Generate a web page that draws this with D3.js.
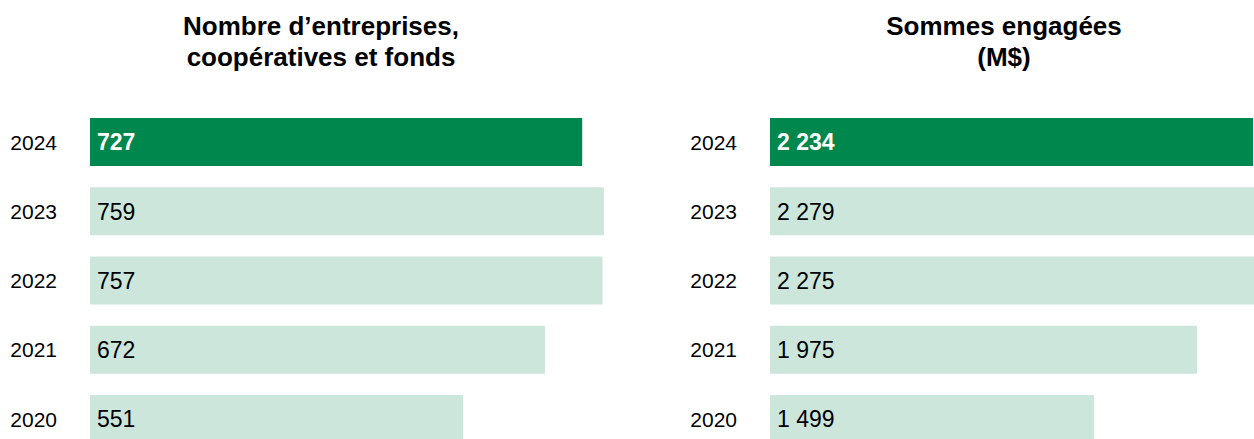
<!DOCTYPE html>
<html>
<head>
<meta charset="utf-8">
<script src="https://cdn.jsdelivr.net/npm/d3@7"></script>
<style>
  body { margin: 0; background: #fff; }
  svg { display: block; font-family: "Liberation Sans", Arial, sans-serif; }
</style>
</head>
<body>
<div id="chart"></div>
<script>
// Données
const annees = ["2024", "2023", "2022", "2021", "2020"];
const nombreEntreprises = [727, 759, 757, 672, 551];
const sommesEngagees = [2234, 2279, 2275, 1975, 1499];
const titreGauche = ["Nombre d\u2019entreprises,", "coopératives et fonds"];
const titreDroite = ["Sommes engagées", "(M$)"];

const width = 1254;
const height = 439;
const vert = "#00874e";
const vertPale = "#cce6db";

const svg = d3.select("#chart")
    .append("svg")
    .attr("width", width)
    .attr("height", height);

// format avec espace comme séparateur de milliers
const fmt = d3.formatLocale({ decimal: ",", thousands: " ", grouping: [3], currency: ["", "$"] }).format(",d");

const y = d3.scaleBand()
    .domain(annees)
    .range([118, 443])
    .paddingInner(0.307)
    .paddingOuter(0);

function panneau(valeurs, titre, x0, xMax, pxParUnite, centreTitre) {
    const x = d3.scaleLinear()
        .domain([0, xMax])
        .range([x0, x0 + xMax * pxParUnite]);

    const g = svg.append("g");

    // Titre
    g.append("text")
        .attr("text-anchor", "middle")
        .attr("font-weight", "bold")
        .attr("font-size", "26px")
        .attr("fill", "#000")
        .selectAll("tspan")
        .data(titre)
        .enter()
        .append("tspan")
        .attr("x", centreTitre)
        .attr("y", (d, i) => 35 + i * 31)
        .text(d => d);

    // Barres
    g.selectAll("rect")
        .data(valeurs)
        .enter()
        .append("rect")
        .attr("x", x(0))
        .attr("y", (d, i) => y(annees[i]))
        .attr("width", d => x(d) - x(0))
        .attr("height", y.bandwidth())
        .attr("fill", (d, i) => i === 0 ? vert : vertPale);

    // Années
    g.selectAll(".annee")
        .data(annees)
        .enter()
        .append("text")
        .attr("class", "annee")
        .attr("x", x(0) - 33)
        .attr("y", d => y(d) + y.bandwidth() / 2)
        .attr("dy", "0.36em")
        .attr("text-anchor", "end")
        .attr("font-size", "21px")
        .attr("fill", "#000")
        .text(d => d);

    // Valeurs
    g.selectAll(".valeur")
        .data(valeurs)
        .enter()
        .append("text")
        .attr("class", "valeur")
        .attr("x", x(0) + 7)
        .attr("y", (d, i) => y(annees[i]) + y.bandwidth() / 2)
        .attr("dy", "0.36em")
        .attr("font-size", "23px")
        .attr("font-weight", (d, i) => i === 0 ? "bold" : "normal")
        .attr("fill", (d, i) => i === 0 ? "#fff" : "#000")
        .text(d => fmt(d));
}

panneau(nombreEntreprises, titreGauche, 90, 760, 0.677, 321);
panneau(sommesEngagees, titreDroite, 770, 2280, 0.2162, 1004);
</script>
</body>
</html>
